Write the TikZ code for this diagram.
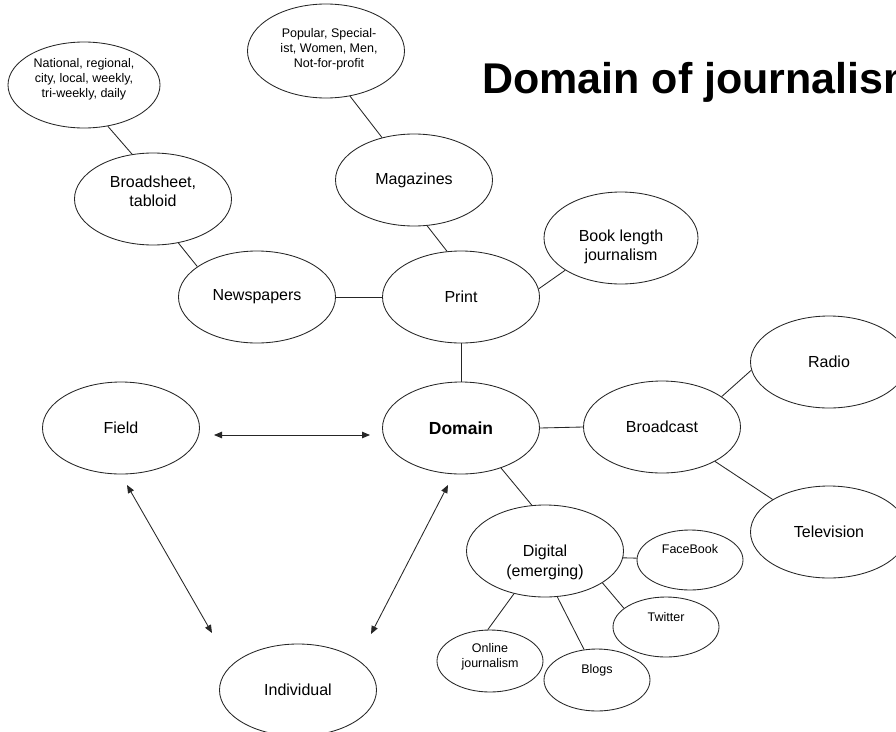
\documentclass[tikz,border=0pt]{standalone}
\usepackage{fontspec}
\setmainfont{Liberation Sans}
\usetikzlibrary{shapes.geometric,arrows.meta}
\begin{document}
\begin{tikzpicture}[x=1pt,y=-1pt,
  bub/.style={ellipse, draw=black!85, line width=0.85pt, inner sep=0pt, minimum width=157pt, minimum height=92pt},
  sbub/.style={bub, minimum width=106pt, minimum height=60pt},
  mtxt/.style={align=center, inner sep=0pt, font=\fontsize{16}{19}\selectfont},
  stxt/.style={align=center, inner sep=0pt, font=\fontsize{12.5}{15}\selectfont},
  conn/.style={draw=black!85, line width=0.85pt},
  dbl/.style={conn, {Triangle[length=8pt,width=6.5pt]}-{Triangle[length=8pt,width=6.5pt]}},
  title/.style={anchor=base west, inner sep=0pt, font=\fontsize{43}{50}\selectfont\bfseries}
]
\useasboundingbox[fill=white] (0,0) rectangle (896,731);

% title
\node[title] (ttl) at (482,93) {Domain of journalism};

% print branch
\node[bub, minimum width=152pt, minimum height=86pt,
  label={[stxt, yshift=6pt]center:{National, regional,\\city, local, weekly,\\tri-weekly, daily}}] (natl) at (84,85) {};
\node[bub, minimum height=94pt,
  label={[stxt, xshift=3pt, yshift=2pt]center:{Popular, Special-\\ist, Women, Men,\\Not-for-profit}}] (pop) at (326,51) {};
\node[bub, label={[mtxt, yshift=8pt]center:{Broadsheet,\\tabloid}}] (broad) at (153,199) {};
\node[bub, label={[mtxt]center:Magazines}] (mag) at (414,180) {};
\node[bub, minimum width=154pt, label={[mtxt, yshift=-9pt]center:{Book length\\journalism}}] (book) at (621,238) {};
\node[bub, label={[mtxt]center:Newspapers}] (news) at (257,297) {};
\node[bub, label={[mtxt]center:Print}] (print) at (461,297) {};

% middle row
\node[bub, label={[mtxt]center:Field}] (field) at (121,428) {};
\node[bub, label={[mtxt, font=\fontsize{17.5}{20}\selectfont\bfseries]center:Domain}] (dom) at (461,428) {};
\node[bub, label={[mtxt]center:Broadcast}] (bcast) at (662,427) {};
\node[bub, label={[mtxt]center:Radio}] (radio) at (829,362) {};
\node[bub, label={[mtxt]center:Television}] (tv) at (829,532) {};

% digital branch
\node[bub, label={[mtxt, yshift=-11pt, font=\fontsize{16}{20}\selectfont]center:{Digital\\(emerging)}}] (dig) at (545,551) {};
\node[sbub, label={[stxt, yshift=11pt]center:FaceBook}] (fb) at (690,560) {};
\node[sbub, label={[stxt, yshift=10pt]center:Twitter}] (tw) at (666,627) {};
\node[sbub, minimum height=62pt, label={[stxt, yshift=4pt]center:{Online\\journalism}}] (online) at (490,661) {};
\node[sbub, minimum height=62pt, label={[stxt, yshift=10pt]center:Blogs}] (blogs) at (597,680) {};

% individual
\node[bub, label={[mtxt]center:Individual}] (indiv) at (298,690) {};

% connectors
\draw[conn] (natl.-60) -- (broad.115);
\draw[conn] (broad.-60) -- (news.153);
\draw[conn] (pop.-62) -- (mag.127);
\draw[conn] (mag.-74) -- (print.107);
\draw[conn] (news.east) -- (print.west);
\draw[conn] (print.6) -- (book.210);
\draw[conn] (print.south) -- (dom.north);
\draw[conn] (dom.east) -- (bcast.west);
\draw[conn] (bcast.27) -- (radio.186);
\draw[conn] (bcast.-33) -- (tv.150);
\draw[conn] (dom.-45) -- (dig.106);
\draw[conn] (dig.-5) -- (fb.178);
\draw[conn] (dig.-29) -- (tw.156);
\draw[conn] (dig.-126) -- (online.94);
\draw[conn] (dig.-75) -- (blogs.113);

% double-headed arrows
\coordinate (fdA) at (214,435);
\coordinate (fdB) at (370,435);
\coordinate (fiA) at (127,485);
\coordinate (fiB) at (212,633);
\coordinate (diA) at (448,485);
\coordinate (diB) at (371,634);
\draw[dbl] (fdA) -- (fdB);
\draw[dbl] (fiA) -- (fiB);
\draw[dbl] (diA) -- (diB);
\end{tikzpicture}
\end{document}
